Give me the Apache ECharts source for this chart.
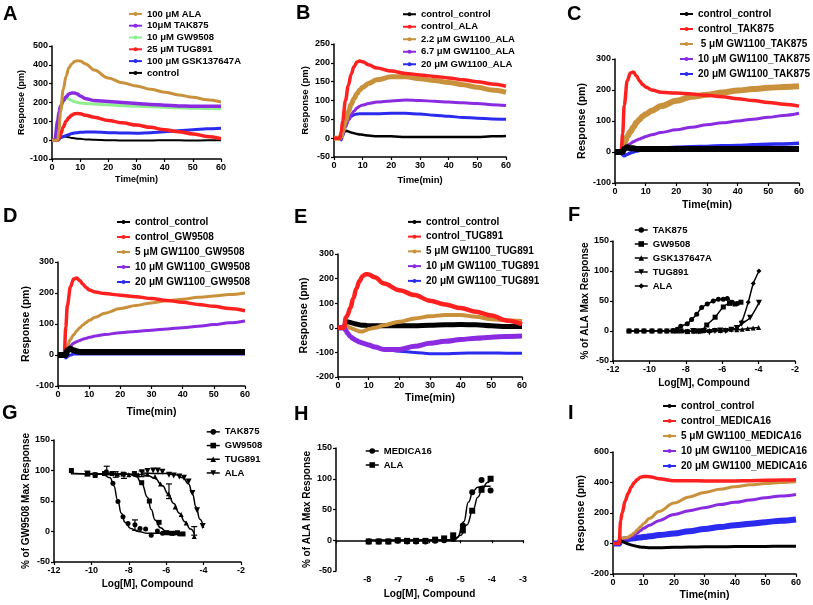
<!DOCTYPE html>
<html><head><meta charset="utf-8">
<script src="https://cdn.jsdelivr.net/npm/echarts@6/dist/echarts.min.js"></script>
<style>html,body{margin:0;padding:0;background:#fff}#c{width:813px;height:605px}</style>
</head><body><div id="c"></div>
<script>
// ---------- DATA ----------
const T = [0,1,2,2.5,3,4,5,6,7,8,9,10,12,15,20,25,30,35,40,45,50,55,60];

// Panel A
const A_ALA    = [0,0,0,60,150,270,340,385,405,418,422,420,405,372,330,305,288,270,255,240,228,215,203];
const A_TAK875 = [0,0,100,150,180,210,230,245,250,250,245,235,220,210,205,200,195,190,185,182,180,180,180];
const A_GW9508 = [0,0,30,100,160,205,222,218,210,205,200,198,195,192,188,183,180,177,175,172,170,168,167];
const A_TUG891 = [0,0,0,10,30,70,100,120,133,140,142,140,132,122,105,92,80,68,55,45,33,20,8];
const A_GSK    = [0,0,0,5,12,18,25,30,35,38,40,42,43,43,40,38,37,40,45,50,55,60,63];
const A_CTRL   = [0,0,5,15,20,20,18,15,12,10,8,7,4,2,0,-2,-2,-2,0,-1,-2,-1,0];

// Panel B
const B_CC   = [0,0,0,-3,10,20,18,15,13,11,10,9,7,5,5,3,3,3,3,3,3,5,6];
const B_CALA = [0,0,0,15,45,100,140,170,190,202,205,203,195,186,178,172,168,164,160,155,150,144,138];
const B_G22  = [0,0,0,5,20,45,70,90,105,118,128,135,145,155,163,163,158,153,148,142,135,128,122];
const B_G67  = [0,0,0,3,12,30,48,62,72,80,85,88,92,96,99,101,100,98,96,94,92,89,87];
const B_G20  = [0,0,0,-5,5,30,48,58,62,64,65,65,65,65,66,66,64,61,58,55,53,51,50];

// Panel C
const C_CC   = [0,0,0,0,10,15,12,12,10,10,10,10,10,10,10,10,10,10,10,10,10,10,10];
const C_CTAK = [0,0,0,60,150,230,255,258,245,230,218,210,200,193,190,187,183,178,172,166,160,154,148];
const C_G5   = [0,0,0,10,25,50,65,80,95,105,115,122,133,148,165,178,185,192,198,203,207,210,212];
const C_G10  = [0,0,0,5,12,20,27,33,38,42,46,50,56,63,72,80,88,94,100,106,112,118,125];
const C_G20  = [0,0,0,-10,-12,-8,-3,0,3,5,7,8,10,13,15,17,18,20,21,23,25,26,28];

// Panel D
const D_CC   = [0,0,0,0,15,20,15,12,10,10,10,10,10,10,10,10,10,10,10,10,10,10,10];
const D_CGW  = [0,0,0,90,160,220,245,248,240,228,218,210,203,198,193,188,182,176,170,163,157,150,143];
const D_G5   = [0,0,0,10,30,50,65,78,88,97,105,112,122,135,150,160,168,175,180,186,190,195,200];
const D_G10  = [0,0,0,5,20,30,38,43,47,51,54,57,61,66,72,76,80,84,88,93,98,104,110];
const D_G20  = [0,0,0,-10,-5,0,3,3,3,3,3,3,3,3,3,3,3,3,3,3,3,3,3];

// Panel E
const E_CC   = [0,0,0,20,25,22,18,15,12,10,10,8,8,8,8,8,10,12,13,12,8,5,5];
const E_CTUG = [0,0,0,40,50,80,120,160,190,210,218,217,205,180,153,133,110,95,80,65,50,30,15];
const E_G5   = [0,0,0,10,5,0,-5,-10,-15,-15,-10,-5,0,10,25,38,47,52,52,45,35,30,28];
const E_G10  = [0,0,0,-10,-20,-35,-45,-52,-58,-62,-66,-70,-78,-88,-88,-75,-63,-55,-48,-42,-38,-35,-33];
const E_G20  = [0,0,0,-10,-20,-35,-45,-52,-58,-62,-66,-70,-78,-88,-95,-100,-105,-105,-103,-102,-102,-103,-103];

// Panel I
const I_CC   = [0,0,0,20,15,5,-3,-10,-15,-20,-23,-25,-28,-28,-25,-23,-22,-21,-20,-19,-19,-18,-18];
const I_CMED = [0,0,0,150,200,280,330,370,400,420,435,440,438,425,412,412,410,410,410,412,414,416,418];
const I_G5   = [0,0,0,30,35,38,42,55,70,90,110,130,165,210,265,305,335,355,372,385,393,400,405];
const I_G10  = [0,0,0,25,28,30,35,45,55,70,85,100,120,150,190,215,235,255,270,285,300,312,322];
const I_G20  = [0,0,0,20,25,28,30,32,35,37,40,42,47,55,65,80,95,108,120,130,140,150,158];

// Panel F (log dose, % of ALA max)
const F_TAK_x = [-11.12,-10.7,-10.3,-9.86,-9.42,-9.04,-8.7,-8.48,-8.28,-7.92,-7.68,-7.4,-7.13,-6.82,-6.49,-6.21,-5.94,-5.72,-5.45,-5.17];
const F_TAK_y = [0,0,0,0,0,0,1,3,8,12,19,28,39,45,50,53,53,54,48,46];
const F_GW_x  = [-11.12,-10.7,-10.3,-9.86,-9.42,-9.04,-8.7,-8.26,-7.92,-7.5,-7.2,-6.85,-6.39,-5.94,-5.6,-5.3,-4.97];
const F_GW_y  = [0,0,0,0,0,0,0,0,-1,0,0,10,23,40,46,45,48];
const F_GSK_x = [-8.5,-8.2,-7.9,-7.6,-7.3,-7,-6.7,-6.4,-6.1,-5.8,-5.5,-5.2,-4.9,-4.6,-4.3,-4];
const F_GSK_y = [0,1,0,0,0,1,1,2,1,2,3,2,3,4,5,6];
const F_TUG_x = [-7.6,-7.3,-7,-6.7,-6.4,-6.1,-5.8,-5.5,-5.2,-4.93,-4.47,-3.98];
const F_TUG_y = [0,-1,0,-2,0,1,0,2,5,12,22,47];
const F_ALA_x = [-6.1,-5.8,-5.5,-5.2,-4.93,-4.57,-4.29,-3.98];
const F_ALA_y = [0,1,2,4,15,48,79,100];

// Panel G (log dose, % of GW9508 max)
const G_TAK_x = [-10.2,-9.8,-9.2,-8.85,-8.58,-8.31,-8.04,-7.67,-7.4,-7.1,-6.8,-6.47,-6.2,-5.9,-5.6,-5.3];
const G_TAK_y = [95,93,98,79,49,24,13,11,5,4,-6,1,-3,-2,-3,-4];
const G_GW_x  = [-11.07,-10.2,-9.8,-9.3,-8.9,-8.3,-7.7,-7.31,-6.9,-6.38,-6.0,-5.7,-5.4,-5.1];
const G_GW_y  = [100,95,93,95,95,94,95,80,50,15,-2,-3,-2,-4];
const G_TUG_x = [-10.2,-9.8,-9.2,-8.6,-8.0,-7.5,-7.0,-6.6,-6.3,-5.88,-5.52,-5.2,-4.93,-4.5];
const G_TUG_y = [95,92,96,94,93,93,94,90,78,62,40,28,14,-8];
const G_ALA_x = [-7.3,-7.0,-6.7,-6.45,-6.2,-5.85,-5.6,-5.3,-5.05,-4.8,-4.6,-4.35,-4.05];
const G_ALA_y = [97,99,100,100,98,93,92,90,88,82,63,35,9];
// fitted curves
const G_TAKfit_x = [-11.1,-9.4,-9.0,-8.8,-8.6,-8.4,-8.2,-7.9,-7.5,-7.0,-5.2];
const G_TAKfit_y = [95,94,88,75,52,30,15,5,0,-3,-3];
const G_GWfit_x  = [-11.1,-8.0,-7.6,-7.3,-7.0,-6.8,-6.6,-6.3,-6.0,-5.5,-5.1];
const G_GWfit_y  = [95,94,90,78,56,36,19,6,0,-3,-3];
const G_TUGfit_x = [-10.2,-7.5,-7.0,-6.6,-6.2,-5.9,-5.6,-5.3,-5.0,-4.7,-4.5];
const G_TUGfit_y = [95,94,92,87,75,62,46,30,16,4,-4];
const G_ALAfit_x = [-7.3,-6.0,-5.5,-5.1,-4.8,-4.6,-4.4,-4.2,-4.0];
const G_ALAfit_y = [96,95,93,88,78,62,40,20,6];
const G_ERR_x  = [-10.22,-9.18,-8.70,-8.26,-7.67,-7.31,-5.85,-4.5];
const G_ERR_lo = [91,96,89,87,2,90,54,-6];
const G_ERR_hi = [99,107,98,96,19,99,78,8];

// Panel H
const H_X     = [-7.95,-7.63,-7.32,-7.02,-6.72,-6.43,-6.13,-5.82,-5.53,-5.24,-4.93,-4.63,-4.33,-4.04];
const H_MED_y = [-2,-2,-2,-1,-2,-2,-2,-1,0,2,24,78,98,81];
const H_ALA_y = [-2,-2,-2,0,-1,-1,-1,1,3,8,16,48,82,100];
const H_MEDfit_x = [-7.95,-5.3,-5.1,-4.9,-4.75,-4.6,-4.45,-4.3,-4.04];
const H_MEDfit_y = [0,0,5,30,62,80,86,88,88];
const H_ALAfit_x = [-7.95,-5.2,-5.0,-4.8,-4.6,-4.45,-4.3,-4.15,-4.04];
const H_ALAfit_y = [0,1,8,25,50,70,84,94,98];

// ---------- STYLE ----------
const FONT = '"Liberation Sans", Arial, Helvetica, sans-serif';
const C_BLACK='#000000', C_RED='#FF2020', C_BROWN='#C9913C', C_PURPLE='#8A2BE2', C_BLUE='#2B2BF0', C_GREEN='#8FEF8F';
const INV_TRI = 'path://M0,0 L10,0 L5,9 Z';

const panels = [
 {id:'A', g:{left:52,top:46,width:169,height:113}, x:[0,60,10], y:[-100,500,100], xn:'Time(min)', yn:'Response (pm)', xg:16, yg:20, ns:9,
  lg:{left:128,top:8,lh:11.8,fs:9.5,iw:13}, letter:[3,4]},
 {id:'B', g:{left:334,top:44,width:172,height:113}, x:[0,60,10], y:[-50,250,50], xn:'Time(min)', yn:'Response (pm)', xg:18, yg:24, ns:9.5,
  lg:{left:402,top:8,lh:12.5,fs:9.5,iw:13}, letter:[296,3]},
 {id:'C', g:{left:615,top:59,width:184,height:124}, x:[0,60,10], y:[-100,300,100], xn:'Time(min)', yn:'Response (pm)', xg:17, yg:27, ns:10.5,
  lg:{left:679,top:6.5,lh:15,fs:10,iw:13}, letter:[567,4]},
 {id:'D', g:{left:58,top:262,width:187,height:124}, x:[0,60,10], y:[-100,300,100], xn:'Time(min)', yn:'Response (pm)', xg:21, yg:25, ns:10.5,
  lg:{left:116,top:214.5,lh:15,fs:10,iw:13}, letter:[3,206]},
 {id:'E', g:{left:338,top:254,width:184,height:123}, x:[0,60,10], y:[-200,300,100], xn:'Time(min)', yn:'Response (pm)', xg:16, yg:28, ns:10.5,
  lg:{left:407,top:214.5,lh:14.75,fs:10,iw:13}, letter:[294,207]},
 {id:'F', g:{left:613,top:241,width:182,height:120}, x:[-12,-2,2], y:[-50,150,50], xn:'Log[M], Compound', yn:'% of ALA Max Response', xg:17, yg:21, ns:10,
  lg:{left:634,top:223,lh:14,fs:9.5,iw:13}, letter:[568,205]},
 {id:'G', g:{left:54,top:440,width:187,height:122}, x:[-12,-2,2], y:[-50,150,50], xn:'Log[M], Compound', yn:'% of GW9508 Max Response', xg:17, yg:20, ns:10,
  lg:{left:206,top:425,lh:13.7,fs:9.5,iw:13}, letter:[2,403]},
 {id:'H', g:{left:336,top:448,width:187,height:123}, x:[-9,-3,1], y:[-50,150,50], xn:'Log[M], Compound', yn:'% of ALA Max Response', xg:18, yg:24, ns:10,
  lg:{left:365,top:444,lh:14,fs:9.5,iw:13}, letter:[294,404], onZero:true},
 {id:'I', g:{left:613,top:452,width:183,height:122}, x:[0,60,10], y:[-200,600,200], xn:'Time(min)', yn:'Response (pm)', xg:16, yg:25, ns:10.5,
  lg:{left:662,top:398.5,lh:15,fs:10,iw:13}, letter:[568,403]}
];

const kin = (vals) => T.map((t,i)=>[t, vals[i]]);
const xy = (xs, ys) => xs.map((x,i)=>[x, ys[i]]);

// series definitions per panel: [name, color, data, lineWidth]
const kinSeries = {
 A: [['control',C_BLACK,A_CTRL,2],['100 μM GSK137647A',C_BLUE,A_GSK,3],['25 μM TUG891',C_RED,A_TUG891,3.5],
     ['10 μM GW9508',C_GREEN,A_GW9508,3],['10μM TAK875',C_PURPLE,A_TAK875,3.5],['100 μM ALA',C_BROWN,A_ALA,3]],
 B: [['control_control',C_BLACK,B_CC,2.5],['20 μM GW1100_ALA',C_BLUE,B_G20,3],['6.7 μM GW1100_ALA',C_PURPLE,B_G67,3],
     ['2.2 μM GW1100_ALA',C_BROWN,B_G22,5],['control_ALA',C_RED,B_CALA,3.5]],
 C: [['20 μM GW1100_TAK875',C_BLUE,C_G20,3.5],['10 μM GW1100_TAK875',C_PURPLE,C_G10,3],[' 5 μM GW1100_TAK875',C_BROWN,C_G5,6],
     ['control_TAK875',C_RED,C_CTAK,3.5],['control_control',C_BLACK,C_CC,6]],
 D: [['20 μM GW1100_GW9508',C_BLUE,D_G20,3],['10 μM GW1100_GW9508',C_PURPLE,D_G10,3],['5 μM GW1100_GW9508',C_BROWN,D_G5,3],
     ['control_GW9508',C_RED,D_CGW,3.5],['control_control',C_BLACK,D_CC,6]],
 E: [['control_control',C_BLACK,E_CC,5],['5 μM GW1100_TUG891',C_BROWN,E_G5,4],['20 μM GW1100_TUG891',C_BLUE,E_G20,3],
     ['10 μM GW1100_TUG891',C_PURPLE,E_G10,5],['control_TUG891',C_RED,E_CTUG,4.5]],
 I: [['20 μM GW1100_MEDICA16',C_BLUE,I_G20,6],['10 μM GW1100_MEDICA16',C_PURPLE,I_G10,3],['5 μM GW1100_MEDICA16',C_BROWN,I_G5,3],
     ['control_control',C_BLACK,I_CC,3],['control_MEDICA16',C_RED,I_CMED,3.5]]
};
const legendOrder = {
 A: ['100 μM ALA','10μM TAK875','10 μM GW9508','25 μM TUG891','100 μM GSK137647A','control'],
 B: ['control_control','control_ALA','2.2 μM GW1100_ALA','6.7 μM GW1100_ALA','20 μM GW1100_ALA'],
 C: ['control_control','control_TAK875',' 5 μM GW1100_TAK875','10 μM GW1100_TAK875','20 μM GW1100_TAK875'],
 D: ['control_control','control_GW9508','5 μM GW1100_GW9508','10 μM GW1100_GW9508','20 μM GW1100_GW9508'],
 E: ['control_control','control_TUG891','5 μM GW1100_TUG891','10 μM GW1100_TUG891','20 μM GW1100_TUG891'],
 F: ['TAK875','GW9508','GSK137647A','TUG891','ALA'],
 G: ['TAK875','GW9508','TUG891','ALA'],
 H: ['MEDICA16','ALA'],
 I: ['control_control','control_MEDICA16','5 μM GW1100_MEDICA16','10 μM GW1100_MEDICA16','20 μM GW1100_MEDICA16']
};

// ---------- BUILD ----------
const grid=[], xAxis=[], yAxis=[], series=[], legend=[], title=[];
const axisText = {color:'#000', fontFamily:FONT, fontWeight:'bold', fontSize:9};
panels.forEach((p, k) => {
  grid.push(Object.assign({containLabel:false}, p.g));
  xAxis.push({type:'value', gridIndex:k, min:p.x[0], max:p.x[1], interval:p.x[2],
    name:p.xn, nameLocation:'middle', nameGap:p.xg,
    nameTextStyle:{color:'#000', fontFamily:FONT, fontWeight:'bold', fontSize:p.ns},
    axisLine:{show:true, onZero:!!p.onZero, lineStyle:{color:'#000', width:1.5}},
    axisTick:{show:true, inside:false, length:3, lineStyle:{color:'#000', width:1.2}},
    axisLabel:Object.assign({margin:4, formatter: v => (p.id==='H' && v===-9) ? '' : String(v)}, axisText),
    splitLine:{show:false}});
  yAxis.push({type:'value', gridIndex:k, min:p.y[0], max:p.y[1], interval:p.y[2],
    name:p.yn, nameLocation:'middle', nameGap:p.yg, nameRotate:90,
    nameTextStyle:{color:'#000', fontFamily:FONT, fontWeight:'bold', fontSize:p.ns},
    axisLine:{show:true, onZero:false, lineStyle:{color:'#000', width:1.5}},
    axisTick:{show:true, inside:false, length:3, lineStyle:{color:'#000', width:1.2}},
    axisLabel:Object.assign({margin:4}, axisText),
    splitLine:{show:false}});
  title.push({text:p.id, left:p.letter[0], top:p.letter[1], padding:0,
    textStyle:{fontFamily:FONT, fontWeight:'bold', fontSize:20, color:'#000'}});
  const isDose = ['F','G','H'].includes(p.id);
  legend.push({orient:'vertical', left:p.lg.left, top:p.lg.top, padding:0, itemGap:0,
    itemWidth:p.lg.iw, itemHeight: isDose ? 7 : 5, selectedMode:false,
    data: legendOrder[p.id].map(n => p.id+'|'+n),
    formatter: n => n.split('|')[1],
    lineStyle: isDose ? {width:1.5, color:'#000', opacity:1} : {width:2, opacity:1},
    textStyle:{color:'#000', fontFamily:FONT, fontWeight:'bold', fontSize:p.lg.fs, lineHeight:p.lg.lh}});
  if (kinSeries[p.id]) {
    kinSeries[p.id].forEach(s => {
      series.push({type:'line', name:p.id+'|'+s[0], xAxisIndex:k, yAxisIndex:k, data:kin(s[2]),
        smooth:0.35, smoothMonotone:'x', showSymbol:false, symbol:'circle', symbolSize:4,
        itemStyle:{color:s[1]}, lineStyle:{color:s[1], width:s[3]}, animation:false, z:2});
    });
  }
});

// Dose-response series
function pts(k, name, xs, ys, sym, size, lw) {
  series.push({type:'line', name:name, xAxisIndex:k, yAxisIndex:k, data:xy(xs,ys),
    smooth:0.3, showSymbol:true, symbol:sym, symbolSize:size,
    itemStyle:{color:'#000'}, lineStyle:{color:'#000', width:lw}, animation:false, z:3});
}
function fit(k, xs, ys) {
  series.push({type:'line', name:'fit', xAxisIndex:k, yAxisIndex:k, data:xy(xs,ys),
    smooth:0.5, smoothMonotone:'x', showSymbol:false, symbol:'none',
    lineStyle:{color:'#000', width:1.5}, animation:false, z:2});
}
// F (index 5)
pts(5,'F|TAK875',F_TAK_x,F_TAK_y,'circle',5,1.5);
pts(5,'F|GW9508',F_GW_x,F_GW_y,'rect',5,1.5);
pts(5,'F|GSK137647A',F_GSK_x,F_GSK_y,'triangle',5,1.5);
pts(5,'F|TUG891',F_TUG_x,F_TUG_y,INV_TRI,6,1.5);
pts(5,'F|ALA',F_ALA_x,F_ALA_y,'diamond',5,1.5);
// G (index 6)
fit(6,G_TAKfit_x,G_TAKfit_y); fit(6,G_GWfit_x,G_GWfit_y); fit(6,G_TUGfit_x,G_TUGfit_y); fit(6,G_ALAfit_x,G_ALAfit_y);
pts(6,'G|TAK875',G_TAK_x,G_TAK_y,'circle',5,0);
pts(6,'G|GW9508',G_GW_x,G_GW_y,'rect',5,0);
pts(6,'G|TUG891',G_TUG_x,G_TUG_y,'triangle',5,0);
pts(6,'G|ALA',G_ALA_x,G_ALA_y,INV_TRI,6,0);
series.push({type:'custom', name:'err', xAxisIndex:6, yAxisIndex:6, animation:false, z:3,
  data: G_ERR_x.map((x,i)=>[x, G_ERR_lo[i], G_ERR_hi[i]]),
  renderItem: (params, api) => {
    const lo = api.coord([api.value(0), api.value(1)]);
    const hi = api.coord([api.value(0), api.value(2)]);
    const st = {stroke:'#000', lineWidth:1.2};
    return {type:'group', children:[
      {type:'line', shape:{x1:lo[0],y1:lo[1],x2:hi[0],y2:hi[1]}, style:st},
      {type:'line', shape:{x1:lo[0]-3,y1:lo[1],x2:lo[0]+3,y2:lo[1]}, style:st},
      {type:'line', shape:{x1:hi[0]-3,y1:hi[1],x2:hi[0]+3,y2:hi[1]}, style:st}]};
  }});
// H (index 7)
fit(7,H_MEDfit_x,H_MEDfit_y); fit(7,H_ALAfit_x,H_ALAfit_y);
pts(7,'H|MEDICA16',H_X,H_MED_y,'circle',6,0);
pts(7,'H|ALA',H_X,H_ALA_y,'rect',6,0);

const chart = echarts.init(document.getElementById('c'), null, {renderer:'canvas'});
chart.setOption({backgroundColor:'#fff', animation:false, title, grid, xAxis, yAxis, legend, series});
</script></body></html>
